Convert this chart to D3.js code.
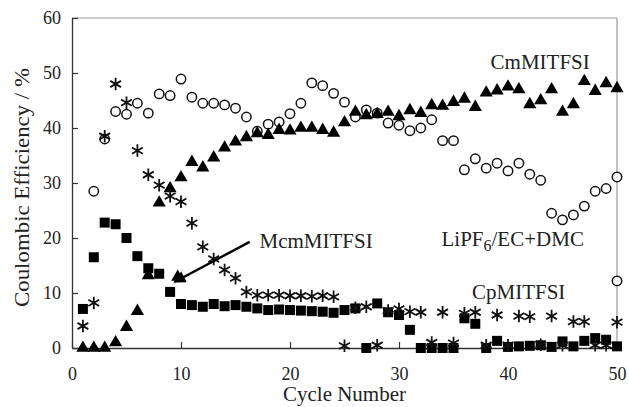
<!DOCTYPE html>
<html>
<head>
<meta charset="utf-8">
<script src="https://cdn.jsdelivr.net/npm/d3@7"></script>
<style>
html,body{margin:0;padding:0;background:#fff;}
svg{display:block;}
svg text{font-family:'Liberation Serif','DejaVu Serif',serif !important;fill:#222;}
</style>
</head>
<body>
<svg id="chart" width="629" height="407"></svg>
<script>
// ---- data ----
const cycles = d3.range(1, 51);
const xTicks = [0, 10, 20, 30, 40, 50];
const yTicks = [0, 10, 20, 30, 40, 50, 60];

// LiPF6/EC+DMC (open circles); null = no point
const lipf6 = [null,28.5,38,43,42.5,44.5,42.7,46.2,45.9,48.9,
  45.6,44.5,44.5,44.2,43.6,42,39.4,40.7,41.1,42.6,
  44.5,48.2,47.7,46.3,44.7,42,43.3,42.7,40.9,40.5,
  39.5,40,41.5,37.7,37.7,32.4,34.4,32.7,33.6,32.2,
  33.6,31.6,30.5,24.5,23.3,24.2,25.8,28.5,29,31.1];
const lipf6Extra = [{cycle: 50, value: 12.2}];

// CmMITFSI (filled triangles)
const cmmitfsi = [0,0,0,1,3.8,6.7,13.2,26.4,29,31,
  33.8,32.8,34.6,36.4,37.5,38.3,39,38.7,39.6,39.5,
  40,40,39.6,39.1,41,42.9,42.3,42.5,42.9,42.1,
  43.2,42.7,44.1,44,44.7,45.3,43.8,46.4,46.8,47.5,
  47,44.3,45,47,42.9,44.3,48.5,46.7,48.1,47.2];
const mcmMarker = [{cycle: 9.7, value: 12.9}];

// filled squares
const squares = [7.1,16.5,22.8,22.5,20,16.7,14.5,13.5,10.2,8,
  7.8,7.5,8,7.6,7.8,7.5,7.2,6.9,7,6.9,
  6.8,6.7,6.6,6.4,6.9,7.2,0,8.1,6.5,6.0,
  3.3,0,0,0,0,5.4,4.4,0,1.3,0.2,
  0.3,0.4,0.5,0.2,1.2,0.3,1.3,1.8,1.5,0.3];

// asterisks
const asterisks = [4,8.2,38.5,48,44.6,35.9,31.5,29.6,27.6,26.6,
  22.7,18.4,16.2,14.2,12.7,10.2,9.6,9.6,9.6,9.5,
  9.5,9.4,9.5,9.3,0.4,7.3,7.5,0.5,6.8,7.1,
  6.6,6.5,1.0,6.5,0.9,6.3,6.5,0.5,6.0,0.5,
  5.8,5.7,0.6,5.8,0.5,4.8,4.8,0.5,0.5,4.7];

// annotations (in data coordinates)
const labels = [
  {text: "CmMITFSI", cycle: 38.4, value: 50.8},
  {text: "McmMITFSI", cycle: 17.2, value: 18.2},
  {text: "CpMITFSI", cycle: 36.7, value: 8.9}
];
const lipfLabel = {cycle: 33.9, value: 18.5};
const arrow = {from: {cycle: 16.3, value: 19.3}, to: {cycle: 9.4, value: 12.0}};

// ---- layout ----
const W = 629, H = 407;
const m = {left: 72, top: 18, right: 12, bottom: 59};
const svg = d3.select("#chart");
const x = d3.scaleLinear().domain([0, 50]).range([m.left, W - m.right]);
const y = d3.scaleLinear().domain([0, 60]).range([H - m.bottom, m.top]);

// frame (top/right gray)
svg.append("line").attr("x1", x(0)).attr("x2", x(50)).attr("y1", y(60)).attr("y2", y(60))
  .attr("stroke", "#9a9a9a").attr("stroke-width", 1.2);
svg.append("line").attr("x1", x(50)).attr("x2", x(50)).attr("y1", y(60)).attr("y2", y(0))
  .attr("stroke", "#9a9a9a").attr("stroke-width", 1.2);

// axes with inward ticks
const xAxis = svg.append("g").attr("transform", `translate(0,${y(0)})`)
  .call(d3.axisBottom(x).tickValues(xTicks).tickSize(-6).tickPadding(19).tickSizeOuter(0));
const yAxis = svg.append("g").attr("transform", `translate(${x(0)},0)`)
  .call(d3.axisLeft(y).tickValues(yTicks).tickSize(-6).tickPadding(11).tickSizeOuter(0));
[xAxis, yAxis].forEach(g => {
  g.attr("font-family", null);
  g.select(".domain").attr("stroke", "#333").attr("stroke-width", 1.3);
  g.selectAll(".tick line").attr("stroke", "#333").attr("stroke-width", 1.2);
  g.selectAll(".tick text").attr("font-size", 18).attr("fill", "#222");
});

// axis titles
svg.append("text").attr("x", (x(0) + x(50)) / 2).attr("y", 401).attr("text-anchor", "middle")
  .attr("font-size", 21).text("Cycle Number");
svg.append("text").attr("transform", `translate(29,187.5) rotate(-90)`)
  .attr("text-anchor", "middle").attr("font-size", 21)
  .attr("textLength", 239).attr("lengthAdjust", "spacingAndGlyphs")
  .text("Coulombic Efficiency / %");

const toPts = arr => cycles.map((c, i) => ({cycle: c, value: arr[i]})).filter(d => d.value !== null);

// circles
svg.append("g").selectAll("circle").data(toPts(lipf6).concat(lipf6Extra)).join("circle")
  .attr("cx", d => x(d.cycle)).attr("cy", d => y(d.value)).attr("r", 4.7)
  .attr("fill", "#fff").attr("stroke", "#111").attr("stroke-width", 1.5);

// triangles
const tri = d3.symbol().type(d3.symbolTriangle).size(75);
svg.append("g").selectAll("path").data(toPts(cmmitfsi).concat(mcmMarker)).join("path")
  .attr("d", tri).attr("transform", d => `translate(${x(d.cycle)},${y(d.value)})`)
  .attr("fill", "#000");

// squares
const sq = d3.symbol().type(d3.symbolSquare).size(100);
svg.append("g").selectAll("path").data(toPts(squares)).join("path")
  .attr("d", sq).attr("transform", d => `translate(${x(d.cycle)},${y(d.value)})`)
  .attr("fill", "#000");

// asterisks
const ast = d3.symbol().type(d3.symbolAsterisk).size(110);
svg.append("g").selectAll("path").data(toPts(asterisks)).join("path")
  .attr("d", ast).attr("transform", d => `translate(${x(d.cycle)},${y(d.value)})`)
  .attr("fill", "none").attr("stroke", "#111").attr("stroke-width", 1.8);

// labels
svg.append("g").selectAll("text").data(labels).join("text")
  .attr("x", d => x(d.cycle)).attr("y", d => y(d.value)).attr("font-size", 21).text(d => d.text);
const lt = svg.append("text").attr("x", x(lipfLabel.cycle)).attr("y", y(lipfLabel.value)).attr("font-size", 21);
lt.append("tspan").text("LiPF");
lt.append("tspan").attr("dy", 5).attr("font-size", 16).text("6");
lt.append("tspan").attr("dy", -5).text("/EC+DMC");

// arrow
svg.append("defs").append("marker").attr("id", "ah").attr("viewBox", "0 0 10 10")
  .attr("refX", 9).attr("refY", 5).attr("markerWidth", 16).attr("markerHeight", 12)
  .attr("markerUnits", "userSpaceOnUse").attr("orient", "auto")
  .append("path").attr("d", "M0,0 L10,5 L0,10 Z").attr("fill", "#000");
svg.append("line").attr("x1", x(arrow.from.cycle)).attr("y1", y(arrow.from.value))
  .attr("x2", x(arrow.to.cycle)).attr("y2", y(arrow.to.value))
  .attr("stroke", "#000").attr("stroke-width", 2.4).attr("marker-end", "url(#ah)");
</script>
</body>
</html>
